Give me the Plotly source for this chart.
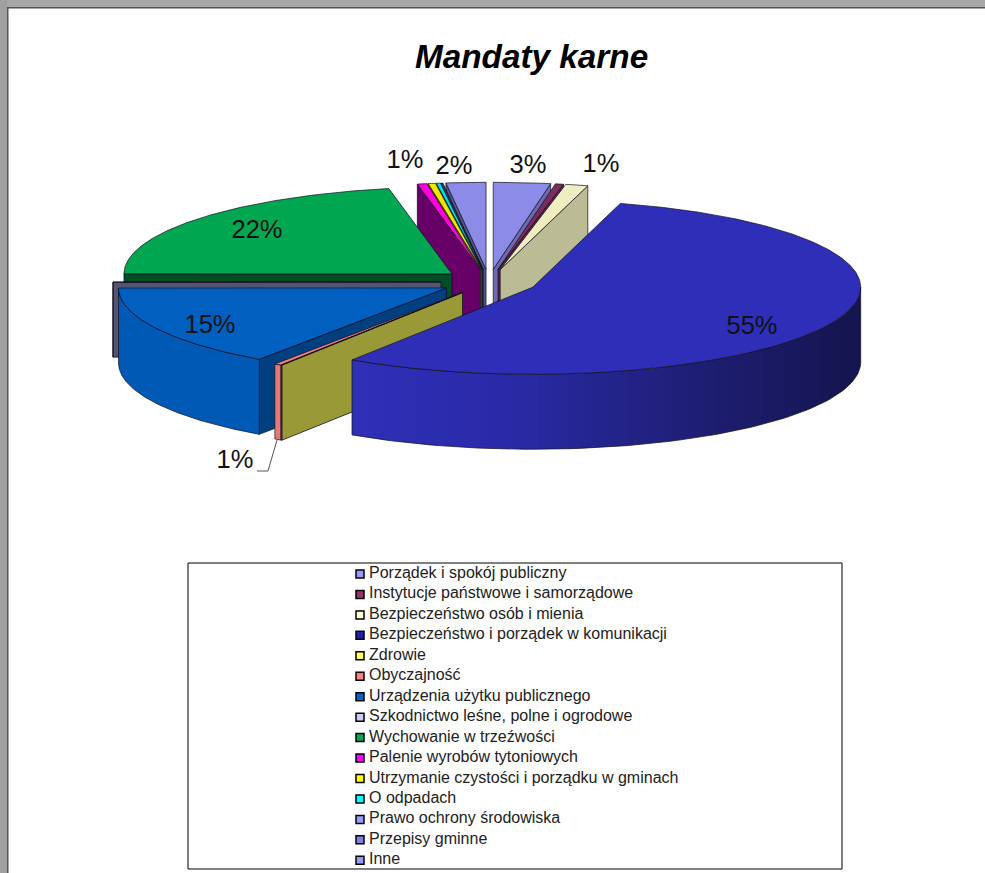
import numpy as np
import plotly.graph_objects as go

categories = ["Porządek i spokój publiczny", "Instytucje państwowe i samorządowe",
              "Bezpieczeństwo osób i mienia", "Bezpieczeństwo i porządek w komunikacji",
              "Zdrowie", "Obyczajność", "Urządzenia użytku publicznego",
              "Szkodnictwo leśne, polne i ogrodowe", "Wychowanie w trzeźwości",
              "Palenie wyrobów tytoniowych", "Utrzymanie czystości i porządku w gminach",
              "O odpadach", "Prawo ochrony środowiska", "Przepisy gminne", "Inne"]
values = [2.8, 0.4, 1.1, 54.95, 0.03, 0.35, 15.3, 0.03, 21.9, 0.47, 0.36, 0.2, 0.05, 0.05, 1.95]
shown_labels = ["3%", "", "1%", "55%", "", "1%", "15%", "", "22%", "1%", "", "", "", "", "2%"]

top_colors = ["#8c8ce8", "#7d2b5f", "#eeeec0", "#2e2eb8", "#ffff66", "#f08080", "#005fbf", "#c4c4f0",
              "#00a650", "#ff00e0", "#f0e800", "#00e0e8", "#8c8cf0", "#5858a8", "#8c8ce8"]
side_colors = ["#6a6ab0", "#5e2048", "#bbbb96", "#22228a", "#999938", "#b06060", "#003f80", "#55556f",
               "#004d26", "#660066", "#908c00", "#008c90", "#55558c", "#38386c", "#55558c"]
arc_colors = ["#6a6ab0", "#5e2048", "#bbbb96", "#2e2eb8", "#999938", "#e87878", "#005ab5", "#55556f",
              "#007a3c", "#660066", "#908c00", "#008c90", "#55558c", "#38386c", "#55558c"]
swatch_colors = ["#9999ff", "#993366", "#ffffcc", "#2020b0", "#ffff66", "#ff8080", "#0066cc", "#ccccff",
                 "#00a650", "#ff00ff", "#ffff00", "#00ffff", "#9999ff", "#8080e0", "#9999ff"]
draw_order = [14, 13, 12, 11, 10, 9, 8, 7, 6, 5, 4, 0, 1, 2, 3]
label_pos = {0: (528, 167), 2: (601, 166), 3: (752, 328), 5: (235, 462), 6: (210, 327),
             8: (257, 232), 9: (405, 162), 14: (454, 168)}

CX, CY, RX, RY, DEPTH, EXPLODE = 489, 282, 328, 87, 75, 48
OUT = "#101020"

v = np.array(values) / sum(values) * 360
edges = np.concatenate([[0], np.cumsum(v)])

fig = go.Figure()


def poly(xs, ys, fill, line=OUT, width=0.7, grad=None):
    d = dict(x=list(xs) + [xs[0]], y=list(ys) + [ys[0]], mode="lines", fill="toself",
             line=dict(color=line, width=width), hoverinfo="skip", showlegend=False)
    if grad:
        d["fillgradient"] = dict(type="horizontal", colorscale=grad)
    else:
        d["fillcolor"] = fill
    fig.add_trace(go.Scatter(**d))


def pt(apex, a):
    r = np.radians(a)
    return apex[0] + RX * np.sin(r), apex[1] - RY * np.cos(r)


apexes, mids = [], []
for i in range(len(v)):
    m = np.radians((edges[i] + edges[i + 1]) / 2)
    mids.append(m)
    apexes.append((CX + EXPLODE * np.sin(m), CY - EXPLODE * RY / RX * np.cos(m)))

for i in draw_order:
    a0, a1 = edges[i], edges[i + 1]
    A = apexes[i]
    wall = a0 if a0 >= 180 else (a1 if a1 <= 180 else None)
    if wall is not None:
        px, py = pt(A, wall)
        poly([A[0], px, px, A[0]], [A[1], py, py + DEPTH, A[1] + DEPTH], side_colors[i])
    lo, hi = max(a0, 90), min(a1, 270)
    if hi > lo:
        t = np.linspace(lo, hi, 90)
        xs, ys = pt(A, t)
        xw = list(xs) + list(xs[::-1])
        yw = list(ys) + list((ys + DEPTH)[::-1])
        grad = None
        if i == 3:
            grad = [[0, "#2f2fb8"], [0.3, "#2a2aa8"], [0.65, "#1f1f78"], [1, "#14144e"]]
        poly(xw, yw, arc_colors[i], grad=grad)
    t = np.linspace(a0, a1, max(3, int(a1 - a0) * 2))
    xs, ys = pt(A, t)
    poly([A[0]] + list(xs), [A[1]] + list(ys), top_colors[i])

for i, txt in enumerate(shown_labels):
    if not txt:
        continue
    lx, ly_ = label_pos[i]
    fig.add_trace(go.Scatter(x=[lx], y=[ly_], mode="text", text=[txt], textposition="middle center",
                             textfont=dict(family="Liberation Sans", size=25.5, color="#111111"),
                             hoverinfo="skip", showlegend=False))

fig.add_trace(go.Scatter(x=[257, 268, 277], y=[471, 471, 440], mode="lines",
                         line=dict(color="#555555", width=1), hoverinfo="skip", showlegend=False))

LX, LY0, LDY = 360, 574, 20.45
ly = [LY0 + LDY * i for i in range(len(categories))]
fig.add_trace(go.Scatter(x=[LX] * len(categories), y=ly, mode="markers",
                         marker=dict(symbol="square", size=8, color=swatch_colors,
                                     line=dict(color="#000000", width=1.5)),
                         hoverinfo="skip", showlegend=False))
fig.add_trace(go.Scatter(x=[LX + 9] * len(categories), y=ly, mode="text", text=categories,
                         textposition="middle right",
                         textfont=dict(family="Liberation Sans", size=16, color="#222222"),
                         hoverinfo="skip", showlegend=False))

fig.update_layout(
    width=985, height=873, margin=dict(l=0, r=0, t=0, b=0), autosize=False,
    paper_bgcolor="white", plot_bgcolor="white", showlegend=False,
    xaxis=dict(range=[0, 985], visible=False, fixedrange=True),
    yaxis=dict(range=[873, 0], visible=False, fixedrange=True),
    shapes=[
        dict(type="rect", x0=0, x1=985, y0=0, y1=7, fillcolor="#a8a8a8", line_width=0, layer="below"),
        dict(type="rect", x0=0, x1=7, y0=0, y1=873, fillcolor="#a0a0a0", line_width=0, layer="below"),
        dict(type="rect", x0=7, x1=985, y0=7, y1=8.5, fillcolor="#555555", line_width=0, layer="below"),
        dict(type="rect", x0=7, x1=8.5, y0=7, y1=873, fillcolor="#555555", line_width=0, layer="below"),
        dict(type="rect", x0=188, x1=842, y0=563, y1=869, fillcolor="white",
             line=dict(color="#000000", width=1), layer="below"),
    ],
    annotations=[dict(text="<b><i>Mandaty karne</i></b>", x=531.5, y=56, xref="x", yref="y", showarrow=False,
                      font=dict(family="Liberation Sans", size=33.3, color="#000000"))],
)
fig.write_html("out.html", config=dict(displayModeBar=False),
               post_script="document.body.style.margin='0';document.body.style.overflow='hidden';")
